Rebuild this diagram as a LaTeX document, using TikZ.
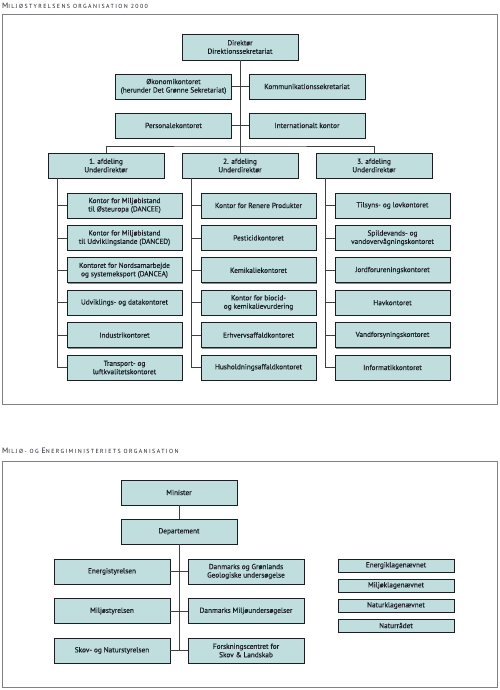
\documentclass[tikz,border=0pt]{standalone}
\usepackage{fontspec}
\setmainfont{PT Sans}
\newfontfamily\boxfont[FakeBold=0.4]{PT Sans}
\usetikzlibrary{positioning,shadows}

\definecolor{boxfill}{RGB}{191,222,221}
\definecolor{ink}{RGB}{28,30,38}
\newcommand\capstitle[2]{{\fontsize{7.8}{9}\selectfont #1}{\fontsize{5.9}{7}\selectfont\addfontfeatures{LetterSpace=24}\MakeUppercase{#2}}}

\begin{document}
\begin{tikzpicture}[x=1pt, y=-1pt,
  orgbox/.style={draw=ink, line width=0.7pt, fill=boxfill, minimum width=116pt,
    minimum height=25pt, inner sep=1pt, align=center, text=ink,
    font=\boxfont\fontsize{7.3}{8.4}\selectfont,
    drop shadow={shadow xshift=0.9pt, shadow yshift=-0.9pt, fill=black!45, opacity=1}},
  smallbox/.style={orgbox, minimum height=13pt},
  frame/.style={draw=black!50, line width=0.8pt, fill=white,
    drop shadow={shadow xshift=1pt, shadow yshift=-1pt, fill=black!40, opacity=1}},
  link/.style={draw=black!75, line width=0.8pt}]

\useasboundingbox (0,0) rectangle (500,690);

% Titles and frames
\node[anchor=base west, inner sep=0pt, text=ink] (title1) at (2,8.5) {\capstitle{M}{iljøstyrelsens organisation 2000}};
\draw[frame] (2,14) rectangle (497,404);
\node[anchor=base west, inner sep=0pt, text=ink] (title2) at (2,453) {\capstitle{M}{iljø- og }\capstitle{E}{nergiministeriets organisation}};
\draw[frame] (2,461) rectangle (497,687);

% Direction
\node[orgbox, minimum height=26pt] (dir) at (240,47) {Direktør\\Direktionssekretariat};
\node[orgbox] (oko) at (173.5,86.5) {Økonomikontoret\\(herunder Det Grønne Sekretariat)};
\node[orgbox] (kom) at (307,86.5) {Kommunikationssekretariat};
\node[orgbox] (pers) at (173.5,125.5) {Personalekontoret};
\node[orgbox] (intl) at (307,125.5) {Internationalt kontor};

% Afdelinger
\node[orgbox] (afdA) at (106,165.5) {1. afdeling\\Underdirektør};
\node[orgbox] (afdB) at (240,165.5) {2. afdeling\\Underdirektør};
\node[orgbox] (afdC) at (374,165.5) {3. afdeling\\Underdirektør};

% 1. afdeling
\node[orgbox, minimum width=115pt] (a1) at (124.5,205.5) {Kontor for Miljøbistand\\til Østeuropa (DANCEE)};
\node[orgbox, minimum width=115pt] (a2) at (124.5,237.9) {Kontor for Miljøbistand\\til Udviklingslande (DANCED)};
\node[orgbox, minimum width=115pt] (a3) at (124.5,270.3) {Kontoret for Nordsamarbejde\\og systemeksport (DANCEA)};
\node[orgbox, minimum width=115pt] (a4) at (124.5,302.7) {Udviklings- og datakontoret};
\node[orgbox, minimum width=115pt] (a5) at (124.5,335.1) {Industrikontoret};
\node[orgbox, minimum width=115pt] (a6) at (124.5,367.5) {Transport- og\\luftkvalitetskontoret};

% 2. afdeling
\node[orgbox, minimum width=115pt] (b1) at (258.5,205.5) {Kontor for Renere Produkter};
\node[orgbox, minimum width=115pt] (b2) at (258.5,237.9) {Pesticidkontoret};
\node[orgbox, minimum width=115pt] (b3) at (258.5,270.3) {Kemikaliekontoret};
\node[orgbox, minimum width=115pt] (b4) at (258.5,302.7) {Kontor for biocid-\\og kemikalievurdering};
\node[orgbox, minimum width=115pt] (b5) at (258.5,335.1) {Erhvervsaffaldkontoret};
\node[orgbox, minimum width=115pt] (b6) at (258.5,367.5) {Husholdningsaffaldkontoret};

% 3. afdeling
\node[orgbox, minimum width=115pt] (c1) at (392.5,205.5) {Tilsyns- og lovkontoret};
\node[orgbox, minimum width=115pt] (c2) at (392.5,237.9) {Spildevands- og\\vandovervågningskontoret};
\node[orgbox, minimum width=115pt] (c3) at (392.5,270.3) {Jordforureningskontoret};
\node[orgbox, minimum width=115pt] (c4) at (392.5,302.7) {Havkontoret};
\node[orgbox, minimum width=115pt] (c5) at (392.5,335.1) {Vandforsyningskontoret};
\node[orgbox, minimum width=115pt] (c6) at (392.5,367.5) {Informatikkontoret};

% Connectors, upper chart
\coordinate (split) at (240,146);
\draw[link] (dir.south) -- (afdB.north);
\draw[link] (oko.east) -- (kom.west);
\draw[link] (pers.east) -- (intl.west);
\draw[link] (afdA.north) |- (split) -| (afdC.north);
\foreach \col/\afd in {a/afdA, b/afdB, c/afdC}
  \foreach \i in {1,...,6}
    \draw[link] ([xshift=9.5pt]\afd.south west) |- (\col\i.west);

% Ministeriet
\node[orgbox] (min) at (179,492.5) {Minister};
\node[orgbox] (dep) at (179,531.5) {Departement};
\node[orgbox] (ens) at (112,571.5) {Energistyrelsen};
\node[orgbox] (mst) at (112,611) {Miljøstyrelsen};
\node[orgbox] (sns) at (112,650.5) {Skov- og Naturstyrelsen};
\node[orgbox] (geus) at (246,571.5) {Danmarks og Grønlands\\Geologiske undersøgelse};
\node[orgbox] (dmu) at (246,611) {Danmarks Miljøundersøgelser};
\node[orgbox] (fsl) at (246,650.5) {Forskningscentret for\\Skov \& Landskab};

% Naevn
\node[smallbox] (ekn) at (396,565.5) {Energiklagenævnet};
\node[smallbox] (mkn) at (396,585.5) {Miljøklagenævnet};
\node[smallbox] (nkn) at (396,605.5) {Naturklagenævnet};
\node[smallbox] (nr) at (396,625.5) {Naturrådet};

% Connectors, lower chart
\draw[link] (min.south) -- (dep.north);
\draw[link] (dep.south) -- (dep.south |- sns.east);
\draw[link] (ens.east) -- (geus.west);
\draw[link] (mst.east) -- (dmu.west);
\draw[link] (sns.east) -- (fsl.west);

\end{tikzpicture}
\end{document}
